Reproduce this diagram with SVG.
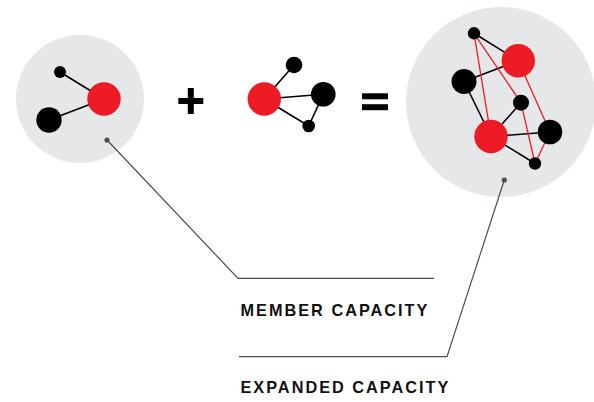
<svg xmlns="http://www.w3.org/2000/svg" width="594" height="402" viewBox="0 0 594 402">
<style>
.bg{fill:#e6e7e8}
.k{fill:#000}
.r{fill:#ed1c24}
.ek{stroke:#000;stroke-width:1.6;fill:none}
.er{stroke:#ed1c24;stroke-width:1.3;fill:none}
.ptr{stroke:#4d4d4f;stroke-width:1.2;fill:none}
.dot{fill:#4d4d4f}
.lbl{font-family:"Liberation Sans",Arial,sans-serif;font-weight:bold;font-size:16.3px;fill:#111;letter-spacing:2px}
</style>
<rect width="594" height="402" fill="#fff"/>
<g id="member-circle">
<circle class="bg" cx="80" cy="99" r="64"/>
<line class="ek" x1="60" y1="72" x2="104" y2="99"/>
<line class="ek" x1="49" y1="120" x2="104" y2="99"/>
<circle class="k" cx="60" cy="72" r="6"/>
<circle class="k" cx="49" cy="120" r="12.7"/>
<circle class="r" cx="104" cy="99" r="16.7"/>
</g>
<g id="plus">
<rect class="k" x="178.3" y="98" width="25" height="6"/>
<rect class="k" x="187.8" y="88" width="6" height="26"/>
</g>
<g id="partner-cluster">
<line class="ek" x1="264.3" y1="99" x2="294" y2="65"/>
<line class="ek" x1="264.3" y1="99" x2="323.3" y2="94.3"/>
<line class="ek" x1="264.3" y1="99" x2="308.7" y2="126"/>
<line class="ek" x1="323.3" y1="94.3" x2="308.7" y2="126"/>
<circle class="r" cx="264.3" cy="99" r="16.7"/>
<circle class="k" cx="294" cy="65" r="8.3"/>
<circle class="k" cx="323.3" cy="94.3" r="12.3"/>
<circle class="k" cx="308.7" cy="126" r="6.3"/>
</g>
<g id="equals">
<rect class="k" x="362" y="93.3" width="26" height="6"/>
<rect class="k" x="362" y="104.2" width="26" height="6"/>
</g>
<g id="expanded-circle">
<circle class="bg" cx="501" cy="102" r="95"/>
<line class="ek" x1="474" y1="33.3" x2="518.3" y2="60.7"/>
<line class="ek" x1="464" y1="81.5" x2="518.3" y2="60.7"/>
<line class="ek" x1="464" y1="81.5" x2="491" y2="136.5"/>
<line class="ek" x1="491" y1="136.5" x2="521" y2="102.7"/>
<line class="ek" x1="491" y1="136.5" x2="550" y2="132"/>
<line class="ek" x1="491" y1="136.5" x2="535" y2="163.5"/>
<line class="er" x1="474" y1="33.3" x2="491" y2="136.5"/>
<line class="er" x1="474" y1="33.3" x2="521" y2="102.7"/>
<line class="er" x1="518.3" y1="60.7" x2="550" y2="132"/>
<line class="er" x1="521" y1="102.7" x2="535" y2="163.5"/>
<line class="er" x1="550" y1="132" x2="535" y2="163.5"/>
<circle class="k" cx="474" cy="33.3" r="6.2"/>
<circle class="r" cx="518.3" cy="60.7" r="16.7"/>
<circle class="k" cx="464" cy="81.5" r="12.5"/>
<circle class="k" cx="521" cy="102.7" r="8"/>
<circle class="r" cx="491" cy="136.5" r="16.7"/>
<circle class="k" cx="550" cy="132" r="12.3"/>
<circle class="k" cx="535" cy="163.5" r="6.2"/>
</g>
<g id="connectors">
<polyline class="ptr" points="107,140 238,278.3 434,278.3"/>
<polyline class="ptr" points="504.3,180 447,356.7 239,356.7"/>
<circle class="dot" cx="107" cy="140" r="2.6"/>
<circle class="dot" cx="504.3" cy="180" r="2.6"/>
</g>
<g id="labels">
<text class="lbl" x="240.5" y="315.5">MEMBER CAPACITY</text>
<text class="lbl" x="240.5" y="393">EXPANDED CAPACITY</text>
</g>
</svg>
